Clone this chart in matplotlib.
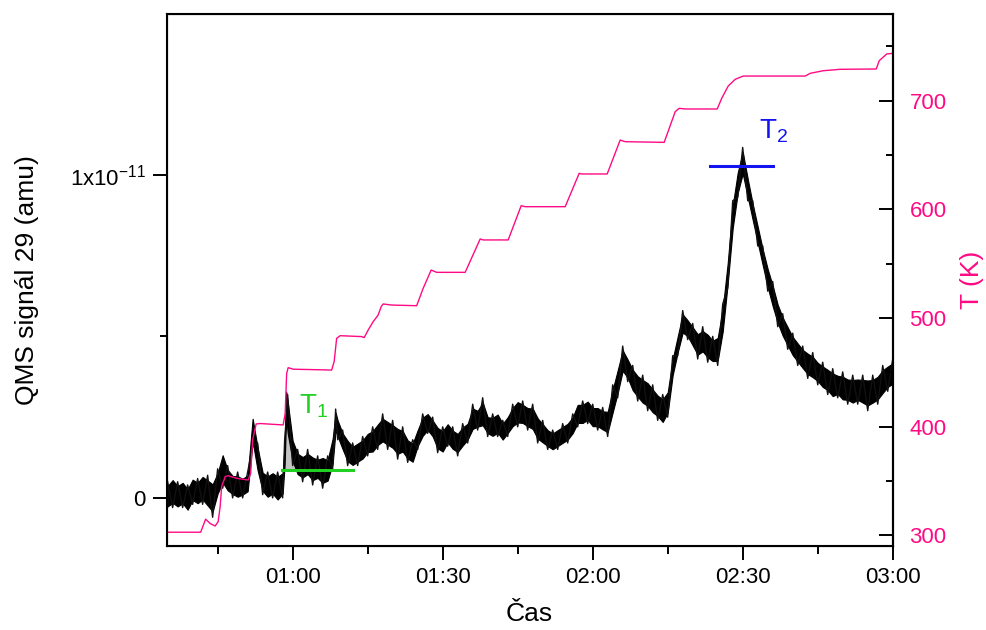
import numpy as np
import matplotlib.pyplot as plt
from matplotlib.ticker import FixedLocator, MultipleLocator, FuncFormatter

plt.rcParams['font.family'] = ['Liberation Sans', 'DejaVu Sans']
plt.rcParams['mathtext.fontset'] = 'custom'
plt.rcParams['mathtext.rm'] = 'Liberation Sans'
plt.rcParams['mathtext.it'] = 'Liberation Sans'

# čas v minutách od půlnoci
t_sig = [35, 36, 37, 38, 39, 40, 41, 42, 43, 44, 45, 46, 47, 48, 49, 50, 51, 52, 53, 54,
         55, 56, 57, 58, 58.4, 58.7, 59, 60, 61, 62, 63, 64, 65, 66, 67, 68, 68.6, 69, 70,
         71, 72, 73, 74, 75, 76, 77, 78, 79, 80, 81, 82, 83, 84, 85, 86, 87, 88, 89, 90,
         91, 92, 93, 94, 95, 96, 97, 98, 99, 100, 101, 102, 103, 104, 105, 106, 107, 108,
         109, 110, 111, 112, 113, 114, 115, 116, 117, 118, 119, 120, 121, 122, 123, 124,
         125, 126, 127, 128, 129, 130, 131, 132, 133, 134, 135, 136, 137, 138, 139, 140,
         141, 142, 143, 144, 145, 146, 147, 148, 149, 150, 151, 152, 153, 154, 155, 156,
         157, 158, 159, 160, 161, 162, 163, 164, 165, 166, 167, 168, 169, 170, 171, 172,
         173, 174, 175, 176, 177, 178, 179, 180]
# QMS signál 29, spodní a horní obálka šumu (x 1e-11)
sig_lo = [-0.04, -0.03, -0.04, -0.03, -0.05, -0.02, -0.03, -0.02, -0.04, -0.06, 0.00, 0.03,
          0.01, 0.00, -0.01, 0.00, 0.01, 0.16, 0.07, 0.01, -0.01, 0.00, -0.02, 0.00, 0.09,
          0.24, 0.18, 0.10, 0.06, 0.05, 0.06, 0.04, 0.05, 0.03, 0.04, 0.09, 0.20, 0.18, 0.14,
          0.10, 0.09, 0.10, 0.11, 0.13, 0.13, 0.15, 0.16, 0.15, 0.14, 0.12, 0.13, 0.11, 0.10,
          0.15, 0.18, 0.20, 0.18, 0.14, 0.13, 0.16, 0.14, 0.13, 0.15, 0.17, 0.20, 0.21, 0.21,
          0.19, 0.18, 0.19, 0.17, 0.19, 0.21, 0.22, 0.22, 0.21, 0.20, 0.17, 0.16, 0.15, 0.14,
          0.15, 0.16, 0.17, 0.19, 0.22, 0.22, 0.23, 0.21, 0.21, 0.20, 0.19, 0.25, 0.31, 0.38,
          0.36, 0.32, 0.30, 0.28, 0.27, 0.25, 0.24, 0.22, 0.25, 0.37, 0.44, 0.50, 0.49, 0.46,
          0.43, 0.44, 0.42, 0.41, 0.41, 0.50, 0.65, 0.82, 0.93, 0.99, 0.92, 0.85, 0.78, 0.71,
          0.64, 0.58, 0.53, 0.49, 0.46, 0.43, 0.41, 0.39, 0.37, 0.36, 0.35, 0.33, 0.32, 0.30,
          0.31, 0.29, 0.29, 0.28, 0.29, 0.28, 0.27, 0.28, 0.29, 0.31, 0.33, 0.34]
sig_hi = [0.05, 0.07, 0.05, 0.06, 0.04, 0.07, 0.06, 0.08, 0.07, 0.06, 0.09, 0.15, 0.10, 0.08,
          0.08, 0.07, 0.08, 0.26, 0.17, 0.09, 0.08, 0.09, 0.08, 0.09, 0.18, 0.345, 0.32, 0.19,
          0.15, 0.14, 0.15, 0.14, 0.13, 0.14, 0.13, 0.20, 0.275, 0.25, 0.21, 0.19, 0.17, 0.18,
          0.19, 0.21, 0.22, 0.24, 0.26, 0.25, 0.24, 0.23, 0.22, 0.19, 0.18, 0.22, 0.26, 0.27,
          0.25, 0.23, 0.22, 0.24, 0.22, 0.21, 0.23, 0.24, 0.29, 0.28, 0.31, 0.26, 0.26, 0.27,
          0.24, 0.26, 0.29, 0.31, 0.30, 0.29, 0.29, 0.26, 0.24, 0.22, 0.21, 0.22, 0.23, 0.24,
          0.26, 0.30, 0.30, 0.31, 0.29, 0.29, 0.28, 0.28, 0.35, 0.41, 0.47, 0.44, 0.41, 0.39,
          0.38, 0.37, 0.35, 0.33, 0.32, 0.34, 0.44, 0.51, 0.58, 0.56, 0.54, 0.52, 0.53, 0.52,
          0.50, 0.51, 0.60, 0.74, 0.92, 1.02, 1.085, 1.00, 0.92, 0.85, 0.78, 0.72, 0.67, 0.61,
          0.57, 0.54, 0.51, 0.49, 0.47, 0.46, 0.45, 0.43, 0.42, 0.41, 0.40, 0.39, 0.39, 0.38,
          0.38, 0.38, 0.38, 0.38, 0.38, 0.39, 0.41, 0.42, 0.43]

# teplota vzorku (K)
t_temp = [34.8, 41.6, 42.6, 43.5, 44.5, 45.1, 45.5, 45.8, 46.5, 47.1, 48.8, 51.1, 51.6, 52.0,
          52.7, 53.5, 58.1, 58.5, 58.8, 59.1, 60.1, 67.8, 68.3, 68.8, 69.5, 73.8, 74.3, 75.1,
          76.1, 77.1, 77.7, 78.1, 79.8, 84.8, 86.1, 87.7, 88.8, 94.5, 97.5, 98.1, 103.1,
          105.7, 106.5, 114.5, 117.3, 117.8, 122.9, 125.5, 126.5, 134.3, 136.5, 137.3, 138.5,
          144.9, 145.8, 147.1, 148.5, 150.1, 162.5, 163.5, 166.1, 169.5, 176.7, 177.3, 178.8, 180]
temp = [303, 303, 315, 311, 308.7, 312.7, 326.5, 345, 354, 355, 352.6, 351, 357, 388,
        402.6, 403, 401.7, 412, 449, 454.4, 453, 452.2, 460, 481.4, 483.8, 483, 482, 489,
        496.7, 502.8, 510.5, 513, 512, 511.4, 527.4, 544.2, 542.1, 542.1, 572.8, 571.9, 571.9,
        603.4, 602.5, 602.5, 633.2, 632.6, 632.6, 663.8, 662.3, 661.7, 689.9, 693, 692.4,
        692.4, 702.2, 713.5, 719.7, 722.7, 722.7, 725.2, 727.6, 728.9, 729.2, 736.8, 743, 743.6]

# značky T1 a T2
t1_range = [57.8, 72.0]
t1_level = 0.087
t2_range = [143.5, 156.1]
t2_level = 1.028

pink = '#ff0a84'
t = np.array(t_sig)
lo = np.array(sig_lo) * 1e-11
hi = np.array(sig_hi) * 1e-11
mid = (lo + hi) / 2
# střídání spodní/horní obálky -> šumová stopa
zig = np.where(np.arange(len(t)) % 2 == 0, hi, lo)

fig = plt.figure(figsize=(9.86, 6.3), dpi=100)
ax = fig.add_axes([0.169, 0.1333, 0.7364, 0.8445])

base = t1_level * 1e-11
ax.fill_between(t, base, mid, where=(mid >= base) & (t > 57.5) & (t < 61.5),
                interpolate=True, color='#c4c4c4', lw=0, zorder=1)
ax.fill_between(t, lo + 0.15 * (hi - lo), hi - 0.15 * (hi - lo), color='black', lw=0.8,
                zorder=2)
ax.plot(t, zig, color='#111111', lw=1.0, zorder=2)
ax.plot(t1_range, [base, base], color='#22d022', lw=2.2, zorder=3)
ax.plot(t2_range, [t2_level * 1e-11] * 2, color='#1414f0', lw=2.2, zorder=3)
ax.text(61.3, 0.262e-11, r'$\mathregular{T_1}$', color='#22d022', fontsize=20)
ax.text(153.3, 1.112e-11, r'$\mathregular{T_2}$', color='#1414f0', fontsize=20)

ax.set_xlim(34.8, 180)
ax.set_ylim(-0.149e-11, 1.498e-11)
ax.xaxis.set_major_locator(MultipleLocator(30))
ax.xaxis.set_minor_locator(MultipleLocator(15))
ax.xaxis.set_major_formatter(FuncFormatter(lambda v, p: '%02d:%02d' % (v // 60, v % 60)))
ax.set_yticks([0, 1e-11])
ax.set_yticklabels(['0', r'1x10$^{\mathregular{-11}}$'])
ax.yaxis.set_minor_locator(FixedLocator([0.5e-11]))
ax.tick_params(which='major', direction='out', length=10, width=1.4, labelsize=16, pad=5)
ax.tick_params(which='minor', direction='out', length=5, width=1.4)
ax.tick_params(axis='x', which='minor', length=6)
for s in ax.spines.values():
    s.set_linewidth(1.5)
ax.set_xlabel('Čas', fontsize=19, labelpad=10)
ax.set_ylabel('QMS signál 29 (amu)', fontsize=19, labelpad=22)

ax2 = ax.twinx()
ax2.plot(t_temp, temp, color=pink, lw=1.0)
ax2.set_ylim(290.3, 779.8)
ax2.yaxis.set_major_locator(MultipleLocator(100))
ax2.yaxis.set_minor_locator(MultipleLocator(50))
ax2.tick_params(which='major', direction='in', length=10, width=1.4, labelsize=16,
                labelcolor=pink, pad=12)
ax2.tick_params(which='minor', direction='in', length=5, width=1.4)
ax2.spines['right'].set_linewidth(1.5)
ax2.set_ylabel('T (K)', fontsize=19, color=pink, labelpad=10)

fig.savefig('out.png', dpi=100)
